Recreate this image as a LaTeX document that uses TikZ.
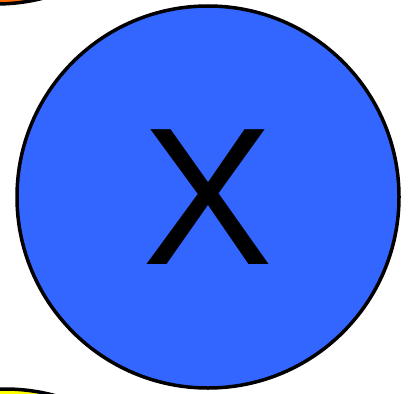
\documentclass[tikz,border=0pt]{standalone}
\usepackage{fontspec}
\setmainfont{Liberation Sans}
\definecolor{ballblue}{HTML}{3366FF}
\definecolor{ballorange}{HTML}{FF6A00}
\definecolor{ballyellow}{HTML}{FFFF00}
\begin{document}
\begin{tikzpicture}[x=1pt, y=-1pt,
  ball/.style={circle, draw=black, line width=3.5pt, inner sep=0pt, minimum size=382pt}]
\clip (0,0) rectangle (419,393);
\useasboundingbox (0,0) rectangle (419,393);
\node[ball, fill=ballorange] (prev) at (-4,-187) {};
\node[ball, fill=ballyellow] (next) at (5,580) {};
\node[ball, fill=ballblue, font=\fontsize{196}{196}\selectfont] (cur) at (208,197) {X};
\end{tikzpicture}
\end{document}
